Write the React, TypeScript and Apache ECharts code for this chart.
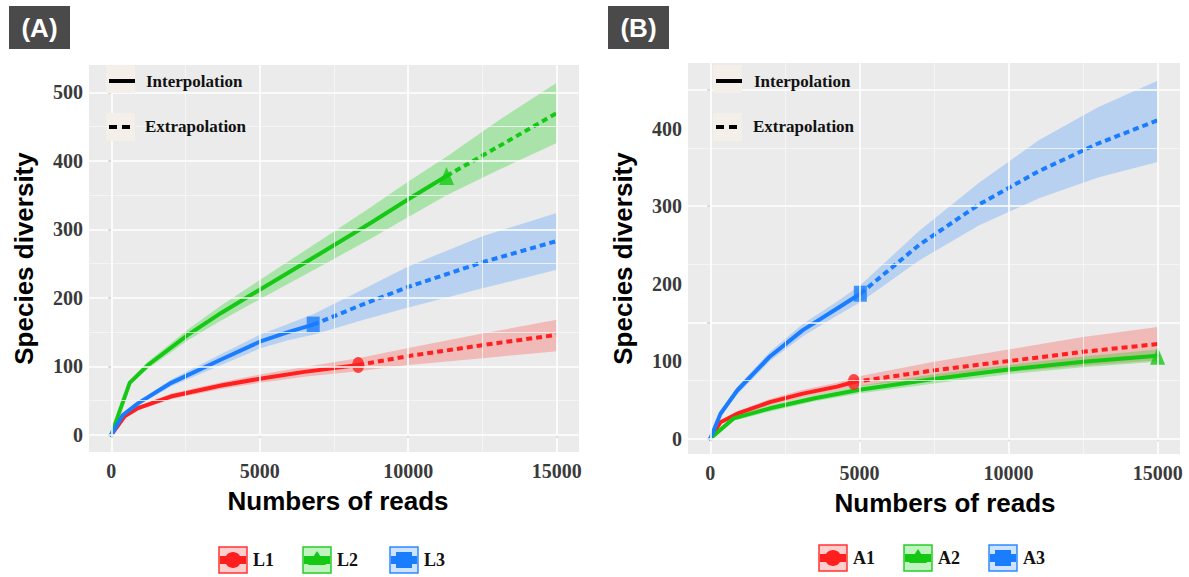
import React, { useEffect, useRef } from "react";
import * as echarts from "echarts";

// ---------- Panel A ----------
const L1_interpX = [0, 450, 900, 2000, 3700, 5000, 6500, 8315];
const L1_interpY = [0, 27, 39, 56, 72, 82, 92, 102];
const L1_extrapX = [8315, 10000, 12500, 15000];
const L1_extrapY = [102, 115, 131, 146];
const L1_bandX = [0, 450, 900, 2000, 3700, 5000, 6500, 8315, 10000, 12500, 15000];
const L1_lower = [0, 25, 36, 52, 67, 76, 85, 93, 102, 112, 122];
const L1_upper = [0, 29, 42, 60, 77, 88, 99, 112, 127, 148, 168];

const L2_interpX = [0, 620, 1240, 2580, 3700, 5000, 7080, 8760, 10000, 11290];
const L2_interpY = [0, 76, 102, 146, 178, 212, 266, 310, 344, 378];
const L2_extrapX = [11290, 13000, 15000];
const L2_extrapY = [378, 420, 470];
const L2_bandX = [0, 620, 1240, 2580, 3700, 5000, 7080, 8760, 10000, 11290, 13000, 15000];
const L2_lower = [0, 73, 97, 138, 167, 198, 247, 287, 318, 350, 386, 426];
const L2_upper = [0, 79, 107, 154, 189, 226, 285, 333, 370, 406, 458, 514];

const L3_interpX = [0, 390, 900, 2020, 3700, 5000, 5950, 6800];
const L3_interpY = [0, 29, 46, 76, 110, 136, 150, 161];
const L3_extrapX = [6800, 8500, 10000, 12500, 15000];
const L3_extrapY = [161, 191, 216, 252, 283];
const L3_bandX = [0, 390, 900, 2020, 3700, 5000, 5950, 6800, 8500, 10000, 12500, 15000];
const L3_lower = [0, 27, 43, 71, 102, 126, 138, 146, 168, 186, 214, 241];
const L3_upper = [0, 31, 49, 81, 118, 146, 162, 176, 213, 246, 290, 324];

// ---------- Panel B ----------
const A1_interpX = [0, 340, 900, 2000, 3100, 4250, 4810];
const A1_interpY = [0, 21, 32, 47, 58, 67, 73];
const A1_extrapX = [4810, 7500, 10000, 12500, 15000];
const A1_extrapY = [73, 88, 100, 112, 122];
const A1_bandX = [0, 340, 900, 2000, 3100, 4250, 4810, 7500, 10000, 12500, 15000];
const A1_lower = [0, 19, 29, 43, 53, 62, 67, 78, 86, 94, 101];
const A1_upper = [0, 23, 35, 51, 63, 72, 79, 99, 115, 131, 144];

const A2_interpX = [0, 780, 2000, 3500, 5000, 7500, 10000, 12500, 15000];
const A2_interpY = [0, 26, 39, 52, 63, 77, 89, 99, 107];
const A2_extrapX: number[] = [];
const A2_extrapY: number[] = [];
const A2_bandX = [0, 780, 2000, 3500, 5000, 7500, 10000, 12500, 15000];
const A2_lower = [0, 23, 35, 48, 58, 71, 83, 92, 99];
const A2_upper = [0, 29, 43, 56, 68, 83, 95, 106, 115];

const A3_interpX = [0, 340, 900, 2000, 3100, 4250, 5030];
const A3_interpY = [0, 32, 62, 106, 140, 168, 187];
const A3_extrapX = [5030, 7000, 9000, 11000, 13000, 15000];
const A3_extrapY = [187, 250, 302, 345, 381, 411];
const A3_bandX = [0, 340, 900, 2000, 3100, 4250, 5030, 7000, 9000, 11000, 13000, 15000];
const A3_lower = [0, 29, 57, 100, 132, 159, 176, 230, 275, 310, 337, 357];
const A3_upper = [0, 35, 67, 112, 148, 177, 198, 268, 330, 385, 428, 462];

// ---------- axes / ticks ----------
const xTicks = [0, 5000, 10000, 15000];
const xMinor = [2500, 7500, 12500];
const A_yTicks = [0, 100, 200, 300, 400, 500];
const A_yMinor = [50, 150, 250, 350, 450];
const B_yLabels = [0, 100, 200, 300, 400];
const B_yTicks = [0, 150, 300, 450];
const B_yMinor = [75, 225, 375];

const panelTitles = ["(A)", "(B)"];
const A_names = ["L1", "L2", "L3"];
const B_names = ["A1", "A2", "A3"];
const keyLabels = ["Interpolation", "Extrapolation"];

const RED = "#ff1f1f";
const GREEN = "#14c814";
const BLUE = "#1a7dff";
const BAND = {
  [RED]: "rgba(255,40,30,0.25)",
  [GREEN]: "rgba(20,210,20,0.3)",
  [BLUE]: "rgba(30,130,255,0.25)",
};

type Curve = {
  name: string;
  color: string;
  symbol: "circle" | "triangle" | "square";
  ix: number[]; iy: number[]; ex: number[]; ey: number[];
  bx: number[]; lo: number[]; hi: number[];
};

const curvesA: Curve[] = [
  { name: A_names[0], color: RED, symbol: "circle", ix: L1_interpX, iy: L1_interpY, ex: L1_extrapX, ey: L1_extrapY, bx: L1_bandX, lo: L1_lower, hi: L1_upper },
  { name: A_names[1], color: GREEN, symbol: "triangle", ix: L2_interpX, iy: L2_interpY, ex: L2_extrapX, ey: L2_extrapY, bx: L2_bandX, lo: L2_lower, hi: L2_upper },
  { name: A_names[2], color: BLUE, symbol: "square", ix: L3_interpX, iy: L3_interpY, ex: L3_extrapX, ey: L3_extrapY, bx: L3_bandX, lo: L3_lower, hi: L3_upper },
];
const curvesB: Curve[] = [
  { name: B_names[0], color: RED, symbol: "circle", ix: A1_interpX, iy: A1_interpY, ex: A1_extrapX, ey: A1_extrapY, bx: A1_bandX, lo: A1_lower, hi: A1_upper },
  { name: B_names[1], color: GREEN, symbol: "triangle", ix: A2_interpX, iy: A2_interpY, ex: A2_extrapX, ey: A2_extrapY, bx: A2_bandX, lo: A2_lower, hi: A2_upper },
  { name: B_names[2], color: BLUE, symbol: "square", ix: A3_interpX, iy: A3_interpY, ex: A3_extrapX, ey: A3_extrapY, bx: A3_bandX, lo: A3_lower, hi: A3_upper },
];

const SERIF = "'Liberation Serif', 'Times New Roman', serif";
const SANS = "'Liberation Sans', Arial, sans-serif";

function pairs(xs: number[], ys: number[]) {
  return xs.map((x, i) => [x, ys[i]]);
}

function buildCurveSeries(c: Curve, gi: number) {
  const out: any[] = [];
  const bx = c.bx, lo = c.lo, hi = c.hi;
  out.push({
    type: "custom",
    name: c.name + " band",
    xAxisIndex: gi,
    yAxisIndex: gi,
    z: 2,
    silent: true,
    data: bx.map((x, i) => [x, lo[i], hi[i]]),
    encode: { x: 0, y: [1, 2] },
    renderItem: (params: any, api: any) => {
      if (params.dataIndex !== 0) return null;
      const top = bx.map((x, i) => api.coord([x, hi[i]]));
      const bot = bx.map((x, i) => api.coord([x, lo[i]])).reverse();
      return {
        type: "polygon",
        shape: { points: top.concat(bot) },
        style: { fill: (BAND as any)[c.color], stroke: null },
      };
    },
  });
  out.push({
    type: "line",
    name: c.name,
    xAxisIndex: gi,
    yAxisIndex: gi,
    z: 3,
    data: pairs(c.ix, c.iy),
    symbol: "none",
    smooth: false,
    lineStyle: { color: c.color, width: 4, cap: "round", join: "round" },
  });
  if (c.ex.length) {
    out.push({
      type: "line",
      name: c.name + " extrapolation",
      xAxisIndex: gi,
      yAxisIndex: gi,
      z: 3,
      data: pairs(c.ex, c.ey),
      symbol: "none",
      smooth: false,
      lineStyle: { color: c.color, width: 4, type: [6, 4], cap: "butt", join: "round" },
    });
  }
  const last = c.ix.length - 1;
  const sym = c.symbol === "circle" ? "circle" : c.symbol === "triangle" ? "triangle" : "rect";
  const size = c.symbol === "circle" ? [12, 16] : c.symbol === "triangle" ? [15, 18] : [13, 16];
  out.push({
    type: "scatter",
    name: c.name + " observed",
    xAxisIndex: gi,
    yAxisIndex: gi,
    z: 4,
    data: [[c.ix[last], c.iy[last]]],
    symbol: sym,
    symbolSize: size,
    itemStyle: { color: c.color },
  });
  return out;
}

function gridSeries(gi: number, yMajor: number[], yMinor: number[]) {
  const major = { color: "#ffffff", width: 1.6, type: "solid" };
  const minor = { color: "#f8f8f8", width: 0.8, type: "solid" };
  const data: any[] = [];
  yMinor.forEach((v) => data.push({ yAxis: v, lineStyle: minor }));
  xMinor.forEach((v) => data.push({ xAxis: v, lineStyle: minor }));
  yMajor.forEach((v) => data.push({ yAxis: v, lineStyle: major }));
  xTicks.forEach((v) => data.push({ xAxis: v, lineStyle: major }));
  return {
    type: "line",
    name: "grid" + gi,
    xAxisIndex: gi,
    yAxisIndex: gi,
    z: 1,
    data: [],
    silent: true,
    markLine: {
      silent: true,
      symbol: "none",
      label: { show: false },
      animation: false,
      data,
    },
  };
}

const plainNum = (v: number) => String(v);

function xAxis(gi: number, shift: number) {
  return {
    type: "value",
    gridIndex: gi,
    min: -750,
    max: 15750,
    axisLine: { show: false },
    axisTick: { show: true, length: 3, customValues: xTicks, lineStyle: { color: "#333", width: 1.5 } },
    axisLabel: { customValues: xTicks, formatter: plainNum, fontFamily: SERIF, fontWeight: "bold", fontSize: 20, color: "#3a3a3a", margin: 9 },
    splitLine: { show: false },
    name: "Numbers of reads",
    nameLocation: "middle",
    nameGap: 36,
    nameTextStyle: { fontFamily: SANS, fontWeight: "bold", fontSize: 26, color: "#000", padding: [0, 0, 0, shift] },
  };
}

function yAxis(gi: number, min: number, max: number, ticks: number[], labels: number[]) {
  return {
    type: "value",
    gridIndex: gi,
    min,
    max,
    axisLine: { show: false },
    axisTick: { show: true, length: 3, customValues: ticks, lineStyle: { color: "#333", width: 1.5 } },
    axisLabel: { customValues: labels, formatter: plainNum, fontFamily: SERIF, fontWeight: "bold", fontSize: 20, color: "#3a3a3a", margin: 6 },
    splitLine: { show: false },
    name: "Species diversity",
    nameLocation: "middle",
    nameGap: 52,
    nameTextStyle: { fontFamily: SANS, fontWeight: "bold", fontSize: 26, color: "#000" },
  };
}

function keyGraphics(x0: number, textX: number) {
  const g: any[] = [];
  g.push({ type: "rect", shape: { x: x0 - 3, y: 65, width: 29, height: 28 }, style: { fill: "#f4efe9" }, z: 10 });
  g.push({ type: "rect", shape: { x: x0 - 3, y: 113, width: 29, height: 28 }, style: { fill: "#f4efe9" }, z: 10 });
  g.push({ type: "line", shape: { x1: x0, y1: 81, x2: x0 + 26, y2: 81 }, style: { stroke: "#000", lineWidth: 4 }, z: 11 });
  g.push({ type: "line", shape: { x1: x0, y1: 127, x2: x0 + 26, y2: 127 }, style: { stroke: "#000", lineWidth: 4, lineDash: [8, 5] }, z: 11 });
  g.push({ type: "text", x: textX, y: 81, style: { text: keyLabels[0], fontFamily: SERIF, fontWeight: "bold", fontSize: 17, fill: "#111", verticalAlign: "middle", align: "left" }, z: 11 });
  g.push({ type: "text", x: textX - 1, y: 126, style: { text: keyLabels[1], fontFamily: SERIF, fontWeight: "bold", fontSize: 17, fill: "#111", verticalAlign: "middle", align: "left" }, z: 11 });
  return g;
}

function legendGraphics(curves: Curve[], centers: number[], cy: number) {
  const g: any[] = [];
  curves.forEach((c, i) => {
    const cx = centers[i];
    g.push({ type: "rect", shape: { x: cx - 14, y: cy - 13, width: 28, height: 26 }, style: { fill: (BAND as any)[c.color], stroke: c.color, lineWidth: 1.5, opacity: 0.9 }, z: 10 });
    g.push({ type: "line", shape: { x1: cx - 13, y1: cy, x2: cx + 13, y2: cy }, style: { stroke: c.color, lineWidth: 8 }, z: 11 });
    if (c.symbol === "circle") {
      g.push({ type: "ellipse", shape: { cx, cy, rx: 8, ry: 8 }, style: { fill: c.color }, z: 12 });
    } else if (c.symbol === "triangle") {
      g.push({ type: "polygon", shape: { points: [[cx, cy - 9], [cx - 9, cy + 5], [cx + 9, cy + 5]] }, style: { fill: c.color }, z: 12 });
    } else {
      g.push({ type: "rect", shape: { x: cx - 8, y: cy - 8, width: 16, height: 16 }, style: { fill: c.color }, z: 12 });
    }
    g.push({ type: "text", x: cx + 20, y: cy, style: { text: c.name, fontFamily: SERIF, fontWeight: "bold", fontSize: 18, fill: "#111", verticalAlign: "middle", align: "left" }, z: 12 });
  });
  return g;
}

function titleGraphics(text: string, x: number) {
  return [
    { type: "rect", shape: { x, y: 6, width: 61, height: 43 }, style: { fill: "#4a4a4a" }, z: 10 },
    { type: "text", x: x + 30.5, y: 28, style: { text, fontFamily: SANS, fontWeight: "bold", fontSize: 26, fill: "#fff", align: "center", verticalAlign: "middle" }, z: 11 },
  ];
}

export default function App() {
  const ref = useRef<HTMLDivElement>(null);
  useEffect(() => {
    if (!ref.current) return;
    const chart = echarts.init(ref.current, null, { renderer: "svg" });
    const series: any[] = [
      gridSeries(0, A_yTicks, A_yMinor),
      gridSeries(1, B_yTicks, B_yMinor),
      ...curvesA.flatMap((c) => buildCurveSeries(c, 0)),
      ...curvesB.flatMap((c) => buildCurveSeries(c, 1)),
    ];
    chart.setOption({
      animation: false,
      backgroundColor: "#ffffff",
      grid: [
        { left: 89, top: 65, width: 490, height: 387, show: true, backgroundColor: "#ebebeb", borderWidth: 0 },
        { left: 688, top: 63, width: 492, height: 391, show: true, backgroundColor: "#ebebeb", borderWidth: 0 },
      ],
      xAxis: [xAxis(0, 8), xAxis(1, 22)],
      yAxis: [
        yAxis(0, -25, 540, A_yTicks, A_yTicks),
        yAxis(1, -20, 485, B_yTicks, B_yLabels),
      ],
      series,
      graphic: [
        ...titleGraphics(panelTitles[0], 9),
        ...titleGraphics(panelTitles[1], 608),
        ...keyGraphics(109, 146),
        ...keyGraphics(716, 754),
        ...legendGraphics(curvesA, [233, 317, 404], 560),
        ...legendGraphics(curvesB, [833, 918, 1003], 558),
      ],
    });
    return () => chart.dispose();
  }, []);
  return (
    <div
      ref={ref}
      style={{ position: "absolute", left: 0, top: 0, width: 1189, height: 577 }}
    />
  );
}
